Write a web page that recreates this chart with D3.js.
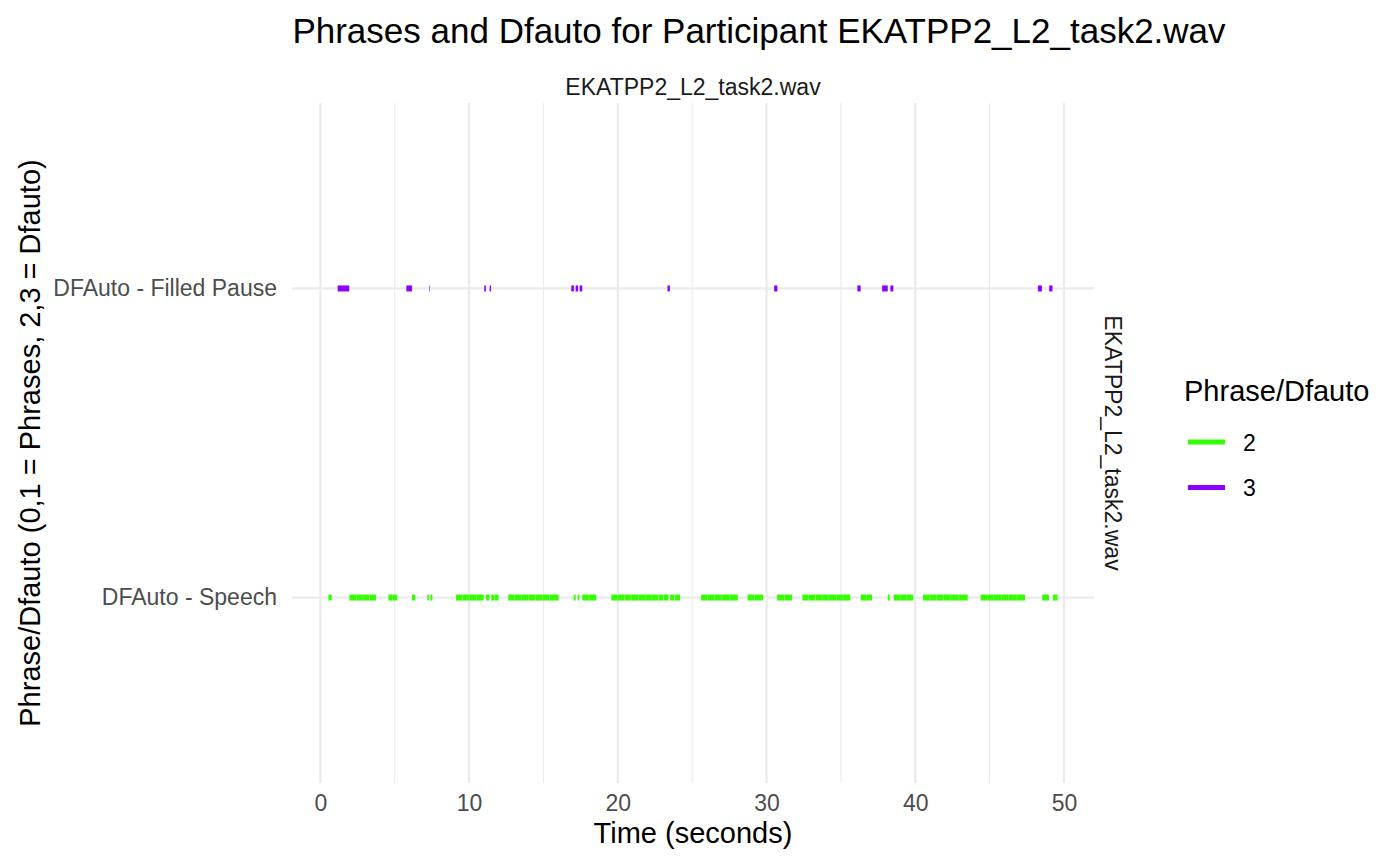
<!DOCTYPE html>
<html>
<head>
<meta charset="utf-8">
<script src="https://cdn.jsdelivr.net/npm/d3@7"></script>
<style>
  html, body { margin: 0; padding: 0; background: #fff; }
  svg { display: block; font-family: "Liberation Sans", Arial, Helvetica, sans-serif; }
</style>
</head>
<body>
<svg id="chart" width="1400" height="865"></svg>
<script>
// ---------------- data ----------------
const categories = ["DFAuto - Speech", "DFAuto - Filled Pause"];
const legendLabels = ["2", "3"];
const colors = ["#33ff00", "#8b00ff"];
const xTicks = [0, 10, 20, 30, 40, 50];
const xMinorTicks = [5, 15, 25, 35, 45];

// Speech segments (value 2), seconds
const speechStart = [0.54, 1.95, 2.42, 2.87, 3.32, 4.57, 4.87, 6.16, 7.19, 7.39,
  9.12, 9.57, 10.02, 10.52, 11.13, 11.49, 11.74,
  12.63, 13.07, 13.52, 14.02, 14.47, 14.92, 15.42,
  17.03, 17.30, 17.61, 18.07,
  19.56, 20.00, 20.45, 20.90, 21.40, 21.85, 22.30, 22.75, 23.10,
  23.52, 23.85,
  25.60, 26.05, 26.50, 27.00, 27.55,
  28.72, 29.20,
  30.71, 31.20,
  32.41, 32.85, 33.30, 33.75, 34.20, 34.70, 35.15,
  36.33, 36.75, 38.15,
  38.55, 39.00, 39.45,
  40.52, 41.00, 41.45, 41.90, 42.40, 42.95,
  44.40, 44.85, 45.30, 45.80, 46.30, 46.85,
  48.54, 49.26];
const speechEnd = [0.76, 2.40, 2.85, 3.30, 3.74, 4.85, 5.17, 6.38, 7.30, 7.53,
  9.55, 10.00, 10.50, 10.98, 11.36, 11.70, 11.98,
  13.05, 13.50, 14.00, 14.45, 14.90, 15.40, 16.02,
  17.16, 17.41, 18.05, 18.55,
  19.98, 20.43, 20.88, 21.38, 21.83, 22.28, 22.73, 23.08, 23.41,
  23.80, 24.19,
  26.03, 26.48, 26.98, 27.53, 28.07,
  29.18, 29.77,
  31.18, 31.72,
  32.83, 33.28, 33.73, 34.18, 34.68, 35.13, 35.63,
  36.73, 37.10, 38.28,
  38.98, 39.43, 39.87,
  40.98, 41.43, 41.88, 42.38, 42.93, 43.53,
  44.83, 45.28, 45.78, 46.28, 46.83, 47.38,
  48.99, 49.57];

// Filled pause segments (value 3), seconds
const pauseStart = [1.16, 5.78, 7.33, 11.02, 11.38, 16.87, 17.16, 17.43, 23.34,
  30.51, 36.11, 37.77, 38.33, 48.25, 49.01];
const pauseEnd = [1.94, 6.16, 7.37, 11.13, 11.47, 17.05, 17.32, 17.61, 23.50,
  30.73, 36.33, 38.15, 38.53, 48.52, 49.23];

// ---------------- build ----------------
const segs = [];
speechStart.forEach((s, i) => segs.push({ start: s, end: speechEnd[i], cat: categories[0], key: legendLabels[0] }));
pauseStart.forEach((s, i) => segs.push({ start: s, end: pauseEnd[i], cat: categories[1], key: legendLabels[1] }));

const svg = d3.select("#chart");
const panel = { left: 292, right: 1094, top: 103, bottom: 783 };

const lo = d3.min(segs, d => d.start), hi = d3.max(segs, d => d.end);
const pad = (hi - lo) * 0.05;
const x = d3.scaleLinear().domain([lo - pad, hi + pad]).range([panel.left, panel.right]);

// discrete y with 0.6 expansion
const yIdx = d3.scaleLinear().domain([0.4, 2.6]).range([panel.bottom, panel.top]);
const y = c => yIdx(categories.indexOf(c) + 1);

const color = d3.scaleOrdinal().domain(legendLabels).range(colors);

// grid
const g = svg.append("g");
g.selectAll("line.minor").data(xMinorTicks).enter().append("line")
  .attr("x1", d => x(d)).attr("x2", d => x(d))
  .attr("y1", panel.top).attr("y2", panel.bottom)
  .attr("stroke", "#ebebeb").attr("stroke-width", 1.1);
g.selectAll("line.major").data(xTicks).enter().append("line")
  .attr("x1", d => x(d)).attr("x2", d => x(d))
  .attr("y1", panel.top).attr("y2", panel.bottom)
  .attr("stroke", "#ebebeb").attr("stroke-width", 2.2);
g.selectAll("line.hmajor").data(categories).enter().append("line")
  .attr("x1", panel.left).attr("x2", panel.right)
  .attr("y1", d => y(d)).attr("y2", d => y(d))
  .attr("stroke", "#ebebeb").attr("stroke-width", 2.2);

// segments
svg.append("g").selectAll("line").data(segs).enter().append("line")
  .attr("x1", d => x(d.start)).attr("x2", d => x(d.end))
  .attr("y1", d => y(d.cat)).attr("y2", d => y(d.cat))
  .attr("stroke", d => color(d.key))
  .attr("stroke-width", 6)
  .attr("stroke-linecap", "butt");

const FONT = "Liberation Sans, Arial, sans-serif";

// x axis
const xAxis = d3.axisBottom(x).tickValues(xTicks).tickSize(0).tickPadding(0).tickFormat(d3.format("d"));
const xa = svg.append("g").attr("transform", `translate(0,${panel.bottom})`).call(xAxis);
xa.select(".domain").remove();
xa.selectAll("text").attr("font-size", 23).attr("fill", "#4d4d4d")
  .attr("dy", null).attr("y", 28).attr("font-family", FONT);

// y axis
const yScaleBand = d3.scalePoint().domain(categories).range([y(categories[0]), y(categories[1])]);
const yAxis = d3.axisLeft(yScaleBand).tickSize(0).tickPadding(15);
const ya = svg.append("g").attr("transform", `translate(${panel.left},0)`).call(yAxis);
ya.select(".domain").remove();
ya.selectAll("text").attr("font-size", 23).attr("fill", "#4d4d4d")
  .attr("font-family", FONT);

// titles
const cx = (panel.left + panel.right) / 2;
svg.append("text").attr("x", 759).attr("y", 43).attr("text-anchor", "middle")
  .attr("font-size", 35).attr("fill", "#000")
  .text("Phrases and Dfauto for Participant EKATPP2_L2_task2.wav");
svg.append("text").attr("x", cx).attr("y", 95).attr("text-anchor", "middle")
  .attr("font-size", 23).attr("fill", "#1a1a1a").text("EKATPP2_L2_task2.wav");
svg.append("text").attr("transform", `translate(1105,${(panel.top + panel.bottom) / 2}) rotate(90)`)
  .attr("text-anchor", "middle").attr("font-size", 23).attr("fill", "#1a1a1a")
  .text("EKATPP2_L2_task2.wav");
svg.append("text").attr("x", cx).attr("y", 843).attr("text-anchor", "middle")
  .attr("font-size", 29).attr("fill", "#000").text("Time (seconds)");
svg.append("text").attr("transform", `translate(40,${(panel.top + panel.bottom) / 2}) rotate(-90)`)
  .attr("text-anchor", "middle").attr("font-size", 29).attr("fill", "#000")
  .text("Phrase/Dfauto (0,1 = Phrases, 2,3 = Dfauto)");

// legend
const lg = svg.append("g").attr("transform", "translate(1184,0)");
lg.append("text").attr("x", 0).attr("y", 401).attr("font-size", 29).attr("fill", "#000").text("Phrase/Dfauto");
const items = lg.selectAll("g.item").data(legendLabels).enter().append("g")
  .attr("transform", (d, i) => `translate(0,${442 + i * 45.5})`);
items.append("line").attr("x1", 4).attr("x2", 41).attr("y1", 0).attr("y2", 0)
  .attr("stroke", d => color(d)).attr("stroke-width", 5);
items.append("text").attr("x", 59).attr("y", 8.5).attr("font-size", 23).attr("fill", "#000").text(d => d);
</script>
</body>
</html>
